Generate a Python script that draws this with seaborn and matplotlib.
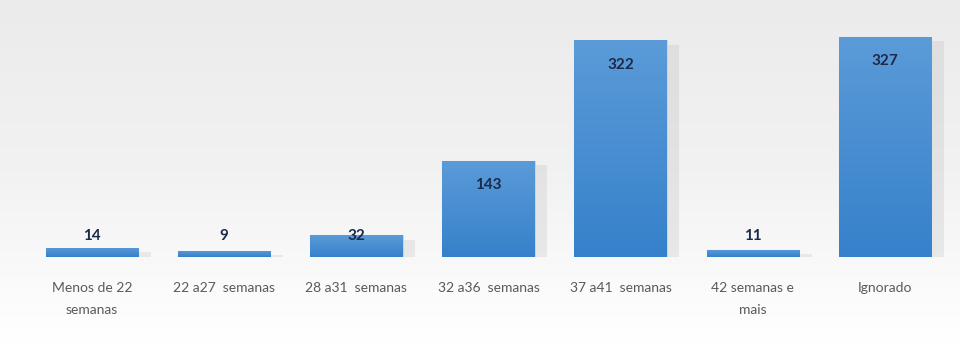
import numpy as np
import pandas as pd
import matplotlib
matplotlib.use("Agg")
import matplotlib.pyplot as plt
import matplotlib.patheffects as pe
from matplotlib.colors import LinearSegmentedColormap
import seaborn as sns

categories = ["Menos de 22\nsemanas", "22 a27  semanas", "28 a31  semanas",
              "32 a36  semanas", "37 a41  semanas", "42 semanas e\nmais", "Ignorado"]
values = [14, 9, 32, 143, 322, 11, 327]

sns.set_theme(style="white")
plt.rcParams['font.family'] = ['Lato', 'DejaVu Sans']

df = pd.DataFrame({"cat": categories, "val": values})

fig = plt.figure(figsize=(9.6, 3.44), dpi=100)

# background gradient
bg = fig.add_axes([0, 0, 1, 1], zorder=-10)
grad = np.linspace(0, 1, 256).reshape(-1, 1)
bg_cmap = LinearSegmentedColormap.from_list("bg", ["#ebebeb", "#f2f2f2", "#ffffff"])
bg.imshow(grad, aspect="auto", cmap=bg_cmap, extent=[0, 1, 0, 1], origin="upper")
bg.set_axis_off()

ax = fig.add_axes([26 / 960, 1 - 257 / 344, (951 - 26) / 960, (257 - 20) / 344])
ax.patch.set_alpha(0)

sns.barplot(data=df, x="cat", y="val", ax=ax, width=0.7, color="#4a8fd4",
            edgecolor="#bcd8f2", linewidth=0.8, saturation=1)

ymax = 327 * (257 - 20) / 220
bar_cmap = LinearSegmentedColormap.from_list("bar", ["#3681cb", "#5b9bd8"])
for p in ax.patches:
    p.set_path_effects([pe.SimplePatchShadow(offset=(9, -3), shadow_rgbFace="#8a8a8a", alpha=0.14),
                        pe.Normal()])
    x0, y0 = p.get_x(), p.get_y()
    w, h = p.get_width(), p.get_height()
    im = ax.imshow(grad, aspect="auto", cmap=bar_cmap,
                   extent=[x0, x0 + w, y0, y0 + h], origin="lower", zorder=3)
    im.set_clip_path(p)
ax.set_xlim(-0.5, len(categories) - 0.5)
ax.set_ylim(0, ymax)

for i, v in enumerate(values):
    ax.text(i, max(v - 36, 31), str(v), ha="center", va="center",
            fontsize=11, fontweight="bold", color="#1b2a48", zorder=5)

ax.set_xlabel("")
ax.set_ylabel("")
ax.set_yticks([])
ax.tick_params(axis="x", length=0, pad=18, labelsize=10, labelcolor="#5a5a5a")
for lbl in ax.get_xticklabels():
    lbl.set_linespacing(2.0)
    lbl.set_va("top")
sns.despine(ax=ax, left=True, bottom=True)

fig.savefig("out.png", dpi=100)
